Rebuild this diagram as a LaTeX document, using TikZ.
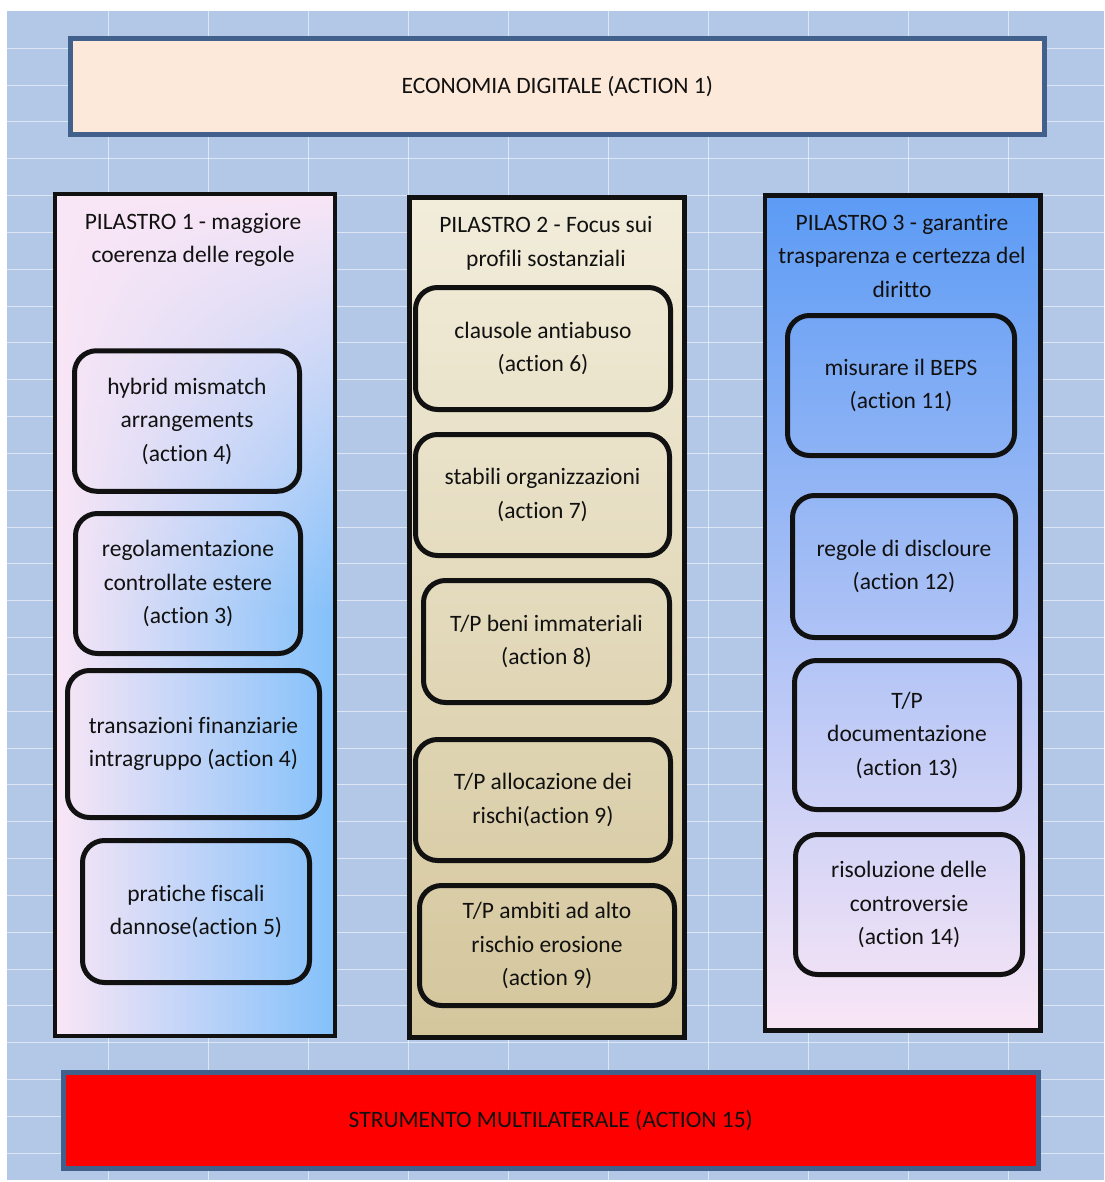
\documentclass[tikz,border=0pt]{standalone}
\usepackage{fontspec}
\setmainfont{Carlito}[Ligatures=NoCommon]
\usetikzlibrary{fadings}
\definecolor{sheetBlue}{HTML}{B3C8E7}
\definecolor{bandEdge}{HTML}{41608C}
\definecolor{bandPeach}{HTML}{FDE9D9}
\definecolor{bandRed}{HTML}{FE0000}
\definecolor{pinkA}{HTML}{F9E6F6}
\definecolor{mistA}{HTML}{CCD9F1}
\definecolor{blueA}{HTML}{84C1FA}
\definecolor{sandTop}{HTML}{F2EDDB}
\definecolor{sandMid}{HTML}{ECE4CB}
\definecolor{sandBot}{HTML}{D4C69C}
\definecolor{blueTop}{HTML}{5C9BF5}
\definecolor{blueMid}{HTML}{A0C6F5}
\definecolor{inkBlack}{HTML}{111111}
\newcommand{\boxfont}{\fontsize{23.5}{33.5}\selectfont}
\tikzset{
  gridline/.style={white, line width=1pt, opacity=0.55},
  band/.style={draw=bandEdge, line width=5pt, inner sep=0pt, font=\boxfont, text=inkBlack},
  pillar/.style={draw=inkBlack, line width=4.5pt, inner sep=0pt},
  act/.style={draw=inkBlack, line width=5pt, rounded corners=22pt, align=center,
              inner sep=0pt, font=\boxfont, text=inkBlack},
  pilltitle/.style={align=center, font=\boxfont, text=inkBlack},
}

\begin{document}
\begin{tikzpicture}[x=1pt, y=-1pt]
    \useasboundingbox (0,0) rectangle (1104,1182);
    \fill[white] (0,0) rectangle (1104,1182);
    \fill[sheetBlue] (7,11.5) rectangle (1104,1180);
    \foreach \gx in {108,208,...,1008}
      \draw[gridline] (\gx,11.5) -- (\gx,1180);
    \foreach \k in {1,...,31}
      \draw[gridline] (7,{11.5+36.83*\k}) -- (1104,{11.5+36.83*\k});

    \node[band, fill=bandPeach, minimum width=974.5pt, minimum height=95.5pt] (digit) at (557.25,86.75) {ECONOMIA DIGITALE (ACTION 1)};
    \node[band, fill=bandRed, minimum width=974.5pt, minimum height=96pt] (multi) at (550.75,1120.5) {STRUMENTO MULTILATERALE (ACTION 15)};

    \node[pillar, draw=none, left color=pinkA, middle color=mistA, right color=blueA, minimum width=275.5pt, minimum height=837pt] (p1) at (194.75,615) {};
    \fill[pinkA, path fading=south] (p1.north west) rectangle ([yshift=-420pt]p1.north east);
    \draw[pillar] (p1.north west) rectangle (p1.south east);
    \node[pillar, top color=sandTop, middle color=sandMid, bottom color=sandBot, minimum width=275pt, minimum height=840pt] (p2) at (547,617.5) {};
    \node[pillar, top color=blueTop, middle color=blueMid, bottom color=pinkA, minimum width=275.5pt, minimum height=835pt] (p3) at (902.75,613) {};

    \node[pilltitle] (t1) at (193,240) {PILASTRO 1 - maggiore\\coerenza delle regole};
    \node[pilltitle] (t2) at (546,243.5) {PILASTRO 2 - Focus sui\\profili sostanziali};
    \node[pilltitle] (t3) at (902,256) {PILASTRO 3 - garantire\\trasparenza e certezza del\\diritto};

    \node[act, minimum width=225pt, minimum height=140.5pt] (a4h) at (187,421) {hybrid mismatch\\arrangements\\(action 4)};
    \node[act, minimum width=225pt, minimum height=140pt] (a3) at (188,583.5) {regolamentazione\\controllate estere\\(action 3)};
    \node[act, minimum width=252pt, minimum height=147pt] (a4f) at (193.5,744) {transazioni finanziarie\\intragruppo (action 4)};
    \node[act, minimum width=227pt, minimum height=142pt] (a5) at (196,911.5) {pratiche fiscali\\dannose(action 5)};

    \node[act, minimum width=255pt, minimum height=122pt] (a6) at (543,348.5) {clausole antiabuso\\(action 6)};
    \node[act, minimum width=254pt, minimum height=121pt] (a7) at (542.5,495) {stabili organizzazioni\\(action 7)};
    \node[act, minimum width=246pt, minimum height=122pt] (a8) at (546.5,641.5) {T/P beni immateriali\\(action 8)};
    \node[act, minimum width=255pt, minimum height=121pt] (a9r) at (543,800) {T/P allocazione dei\\rischi(action 9)};
    \node[act, minimum width=255pt, minimum height=120pt] (a9e) at (547,945.5) {T/P ambiti ad alto\\rischio erosione\\(action 9)};

    \node[act, minimum width=227pt, minimum height=140pt] (a11) at (901,385.5) {misurare il BEPS\\(action 11)};
    \node[act, minimum width=223pt, minimum height=142pt] (a12) at (904,566.5) {regole di discloure\\(action 12)};
    \node[act, minimum width=225pt, minimum height=149pt] (a13) at (907,735) {T/P\\documentazione\\(action 13)};
    \node[act, minimum width=227pt, minimum height=140pt] (a14) at (909,904.5) {risoluzione delle\\controversie\\(action 14)};
\end{tikzpicture}
\end{document}
